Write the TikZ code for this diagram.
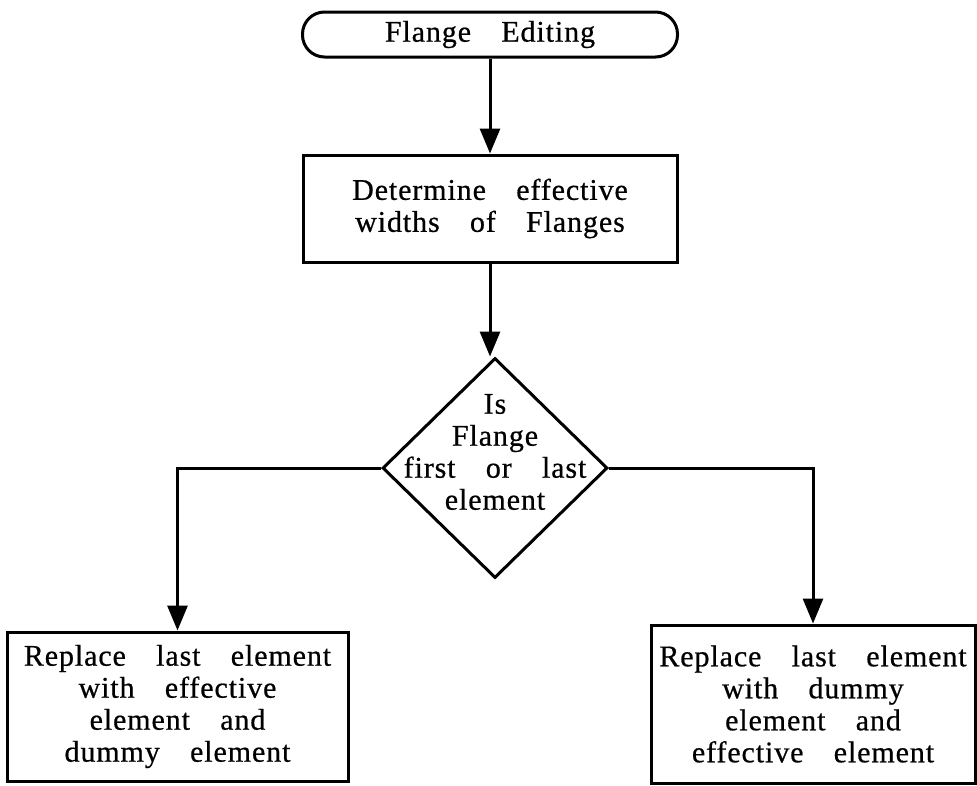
\documentclass[tikz,border=0pt]{standalone}
\usepackage{fontspec}
\setmainfont[LetterSpace=3,WordSpace=3.6,FakeBold=0.6]{Liberation Serif}
\usetikzlibrary{arrows.meta,shapes.geometric}
\begin{document}
\begin{tikzpicture}[x=1pt,y=-1pt,
  font=\fontsize{30}{32}\selectfont,
  boxnode/.style={draw,line width=3pt,align=center,inner sep=0pt},
  arr/.style={line width=3pt,-{Triangle[length=25pt,width=20pt]}}]
\useasboundingbox (0,0) rectangle (977,785);
\node[boxnode,rounded corners=22pt,minimum width=375pt,minimum height=45pt] (start) at (490,34.5) {Flange Editing};
\node[boxnode,minimum width=374pt,minimum height=107pt] (det) at (490,208.5) {Determine effective\\widths of Flanges};
\node[draw,diamond,line width=3pt,minimum width=225pt,minimum height=220pt,inner sep=0pt] (dec) at (495,468) {};
\node[align=center] (dectext) at (495,452) {Is\\Flange\\first or last\\element};
\node[boxnode,minimum width=341pt,minimum height=149pt] (lb) at (177.5,706.5) {Replace last element\\with effective\\element and\\dummy element};
\node[boxnode,minimum width=324pt,minimum height=158pt] (rb) at (813,704) {Replace last element\\with dummy\\element and\\effective element};
\draw[arr] (start) -- (det);
\draw[arr] (det.south) -- (det.south |- dec.north);
\draw[arr] (dec.west) -| (lb.north);
\draw[arr] (dec.east) -| (rb.north);
\end{tikzpicture}
\end{document}
